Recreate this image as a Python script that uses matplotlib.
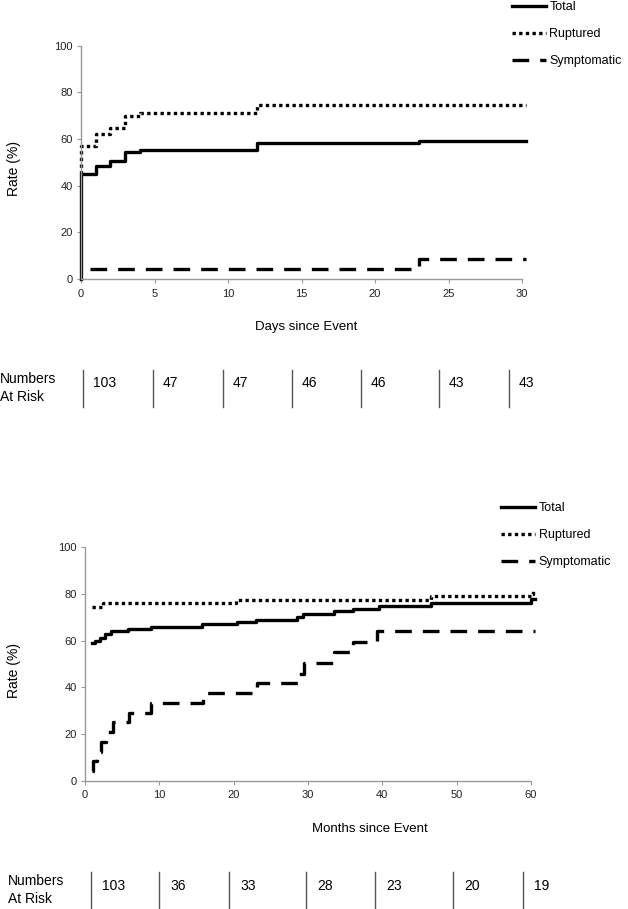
import matplotlib
matplotlib.use("Agg")
import matplotlib.pyplot as plt

plt.rcParams['font.family'] = ['Liberation Sans', 'DejaVu Sans']

# ---- data: top panel (days) ----
days_ticks = [0, 5, 10, 15, 20, 25, 30]
days_total_x = [0, 0, 1, 2, 3, 4, 12, 23, 30.3]
days_total_y = [0, 45, 48.6, 50.5, 54.5, 55.3, 58.3, 59.2, 59.2]
days_rupt_x = [0, 0, 1, 2, 3, 4, 12, 30.3]
days_rupt_y = [45, 57.2, 62.1, 64.8, 69.8, 71.0, 74.7, 74.7]
days_symp_x = [0.6, 23, 30.3]
days_symp_y = [4.3, 8.5, 8.5]
days_at_risk = [103, 47, 47, 46, 46, 43, 43]

# ---- data: bottom panel (months) ----
months_ticks = [0, 10, 20, 30, 40, 50, 60]
months_total_x = [1, 1.4, 2.0, 2.7, 3.5, 5.8, 8.9, 15.8, 20.5, 23, 28.5, 29.3,
                  33.5, 36, 39.5, 46.5, 60, 60.6]
months_total_y = [59, 60, 61, 63, 64, 65, 66, 67, 68, 69, 70.3, 71.3,
                  72.6, 73.7, 74.9, 76.1, 77.7, 77.7]
months_rupt_x = [1, 2.4, 20.3, 46.5, 60, 60.3, 60.6]
months_rupt_y = [74.6, 76.0, 77.5, 79.3, 80.2, 81.2, 81.2]
months_symp_x = [1, 1.05, 1.6, 2.1, 2.8, 3.7, 5.9, 8.9, 15.9, 23.1, 28.6,
                 29.4, 33.5, 36.0, 39.3, 60.6]
months_symp_y = [4.2, 8.3, 12.5, 16.7, 20.8, 25.0, 29.2, 33.3, 37.5, 41.7,
                 45.8, 50.4, 55.0, 59.6, 64.1, 64.1]
months_at_risk = [103, 36, 33, 28, 23, 20, 19]

labels = ["Total", "Ruptured", "Symptomatic"]

W, H = 628, 909
fig = plt.figure(figsize=(W / 100, H / 100), dpi=100)


def px(x, y):
    return x / W, 1 - y / H


def panel(rect, series, ticks, xmax, legend_xy):
    ax = fig.add_axes(rect)
    styles = [dict(linestyle='-'),
              dict(linestyle=(0, (1, 1))),
              dict(linestyle=(0, (5, 3.3)))]
    for (xs, ys), st, lab in zip(series, styles, labels):
        ax.step(xs, ys, where='post', color='black', lw=2.4,
                clip_on=False, label=lab, **st)
    ax.set_xlim(0, xmax)
    ax.set_ylim(0, 100)
    ax.set_xticks(ticks)
    ax.set_yticks(range(0, 101, 20))
    for s in ['top', 'right']:
        ax.spines[s].set_visible(False)
    for s in ['left', 'bottom']:
        ax.spines[s].set_color('#999999')
        ax.spines[s].set_linewidth(1)
    ax.tick_params(direction='out', length=3, color='#999999',
                   labelsize=8, labelcolor='#222222')
    ax.tick_params(axis='x', pad=4)
    ax.tick_params(axis='y', pad=3)
    ax.legend(loc='upper left', bbox_to_anchor=legend_xy,
              bbox_transform=fig.transFigure, frameon=False, fontsize=9,
              handlelength=2.7, handletextpad=0.3, borderpad=0,
              borderaxespad=0, labelspacing=1.2)
    return ax


ax1 = panel([81 / W, 1 - 279 / H, 441 / W, 233.3 / H],
            [(days_total_x, days_total_y), (days_rupt_x, days_rupt_y),
             (days_symp_x, days_symp_y)],
            days_ticks, 30, px(512, 1))
ax2 = panel([85 / W, 1 - 780.7 / H, 446 / W, 233.4 / H],
            [(months_total_x, months_total_y), (months_rupt_x, months_rupt_y),
             (months_symp_x, months_symp_y)],
            months_ticks, 60, px(501, 502))

# axis labels
for ax, yc in [(ax1, 168), (ax2, 670)]:
    fig.text(*px(14, yc), "Rate (%)", rotation=90, ha='center', va='center',
             fontsize=10)
fig.text(*px(306, 327), "Days since Event", ha='center', va='center',
         fontsize=9.5)
fig.text(*px(370, 829), "Months since Event", ha='center', va='center',
         fontsize=9.5)

# numbers at risk tables (drawn in pixel space)
tab = fig.add_axes([0, 0, 1, 1])
tab.set_xlim(0, W)
tab.set_ylim(H, 0)
tab.axis('off')

top_cols = [83, 153, 223, 292, 361, 439, 509]
bot_cols = [91, 159, 229, 306, 375, 453, 523]
for cols, vals, y0, y1, ylab, yval, xlab, off in [
        (top_cols, days_at_risk, 370, 407, 379, 383, 0, 10),
        (bot_cols, months_at_risk, 872, 909, 881, 886, 8, 11)]:
    tab.text(xlab, ylab, "Numbers", ha='left', va='center', fontsize=10)
    tab.text(xlab, ylab + 18, "At Risk", ha='left', va='center', fontsize=10)
    for c, v in zip(cols, vals):
        tab.plot([c, c], [y0, y1], color='#555555', lw=1)
        tab.text(c + off, yval, str(v), ha='left', va='center', fontsize=10)

fig.savefig("out.png", dpi=100)
